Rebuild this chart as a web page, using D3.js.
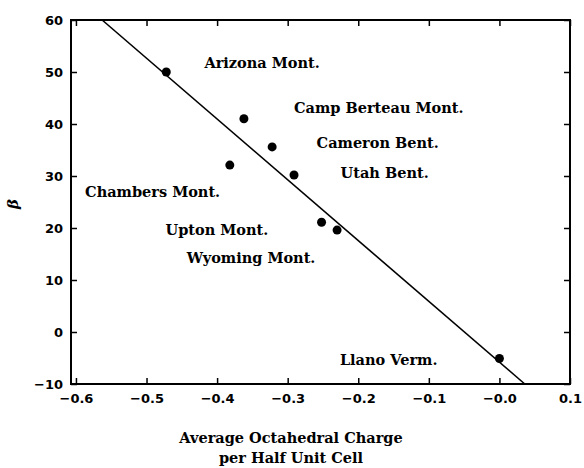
<!DOCTYPE html>
<html>
<head>
<meta charset="utf-8">
<script src="https://cdn.jsdelivr.net/npm/d3@7"></script>
<style>
  body { margin: 0; background: #fff; }
  .tick text { font-family: "DejaVu Sans", sans-serif; font-weight: bold; font-size: 13px; fill: #000; }
  .lbl { font-family: "DejaVu Serif", serif; font-weight: bold; font-size: 14.5px; fill: #000; }
</style>
</head>
<body>
<svg id="chart" width="584" height="468"></svg>
<script>
// 測定値 (八面体電荷 vs β)
const charge = [-0.472, -0.362, -0.322, -0.382, -0.291, -0.252, -0.230, 0.0];
const beta   = [50, 41, 35.6, 32.1, 30.2, 21.1, 19.6, -5.1];

// 回帰直線 β = a + b * charge
const fitIntercept = -5.8;
const fitSlope = -116.9;

// 試料名ラベル
const labelNames = ["Arizona Mont.", "Camp Berteau Mont.", "Cameron Bent.", "Utah Bent.",
                    "Chambers Mont.", "Upton Mont.", "Wyoming Mont.", "Llano Verm."];
const labelX = [-0.418, -0.291, -0.259, -0.225, -0.587, -0.473, -0.443, -0.226];
const labelY = [50.8, 42.1, 35.4, 29.6, 26.0, 18.7, 13.3, -6.3];

const xTicks = [-0.6, -0.5, -0.4, -0.3, -0.2, -0.1, 0.0, 0.1];
const yTicks = [-10, 0, 10, 20, 30, 40, 50, 60];

const svg = d3.select('#chart');
const mLeft = 71, mRight = 570, mTop = 20, mBottom = 384;

const x = d3.scaleLinear().domain([-0.607, 0.1]).range([mLeft, mRight]);
const y = d3.scaleLinear().domain([-10, 60]).range([mBottom, mTop]);

// 軸
const fmtX = d => d === 0 ? "\u22120.0" : d3.format(".1f")(d).replace("-", "\u2212");
const fmtY = d => String(d).replace("-", "\u2212");

const xAxis = svg.append('g').attr('transform', `translate(0,${mBottom})`)
    .call(d3.axisBottom(x).tickValues(xTicks).tickSize(-6).tickPadding(9).tickFormat(fmtX));
const xTop = svg.append('g').attr('transform', `translate(0,${mTop})`)
    .call(d3.axisTop(x).tickValues(xTicks).tickSize(-6).tickFormat(''));
const yAxis = svg.append('g').attr('transform', `translate(${mLeft},0)`)
    .call(d3.axisLeft(y).tickValues(yTicks).tickSize(-6).tickPadding(8).tickFormat(fmtY));
const yRight = svg.append('g').attr('transform', `translate(${mRight},0)`)
    .call(d3.axisRight(y).tickValues(yTicks).tickSize(-6).tickFormat(''));

[xAxis, xTop, yAxis, yRight].forEach(g => {
    g.select('.domain').remove();
    g.selectAll('.tick line').attr('stroke', '#000').attr('stroke-width', 1.5);
});
xAxis.selectAll('.tick text').attr('dy', '0.75em');
yAxis.selectAll('.tick text').attr('dy', '0.36em');

// 枠
svg.append('rect')
    .attr('x', mLeft).attr('y', mTop)
    .attr('width', mRight - mLeft).attr('height', mBottom - mTop)
    .attr('fill', 'none').attr('stroke', '#000').attr('stroke-width', 2);

// 回帰直線 (プロット範囲でクリップ)
const lineY = xv => fitIntercept + fitSlope * xv;
const x0 = (60 - fitIntercept) / fitSlope;
const x1 = (-10 - fitIntercept) / fitSlope;
svg.append('line')
    .attr('x1', x(x0)).attr('y1', y(lineY(x0)))
    .attr('x2', x(x1)).attr('y2', y(lineY(x1)))
    .attr('stroke', '#000').attr('stroke-width', 1.6);

// データ点
svg.append('g').selectAll('circle')
    .data(charge.map((c, i) => [c, beta[i]]))
    .enter()
    .append('circle')
    .attr('cx', d => x(d[0]))
    .attr('cy', d => y(d[1]))
    .attr('r', 4.5)
    .attr('fill', '#000');

// ラベル
svg.append('g').selectAll('text')
    .data(labelNames)
    .enter()
    .append('text')
    .attr('class', 'lbl')
    .attr('x', (d, i) => x(labelX[i]))
    .attr('y', (d, i) => y(labelY[i]))
    .text(d => d);

// 軸タイトル
svg.append('text').attr('class', 'lbl')
    .attr('x', 291).attr('y', 443).attr('text-anchor', 'middle')
    .text('Average Octahedral Charge');
svg.append('text').attr('class', 'lbl')
    .attr('x', 291).attr('y', 463).attr('text-anchor', 'middle')
    .text('per Half Unit Cell');
svg.append('text').attr('class', 'lbl')
    .attr('transform', 'translate(18,204) rotate(-90)')
    .attr('text-anchor', 'middle')
    .style('font-style', 'italic').style('font-size', '15px')
    .text('β');
</script>
</body>
</html>
